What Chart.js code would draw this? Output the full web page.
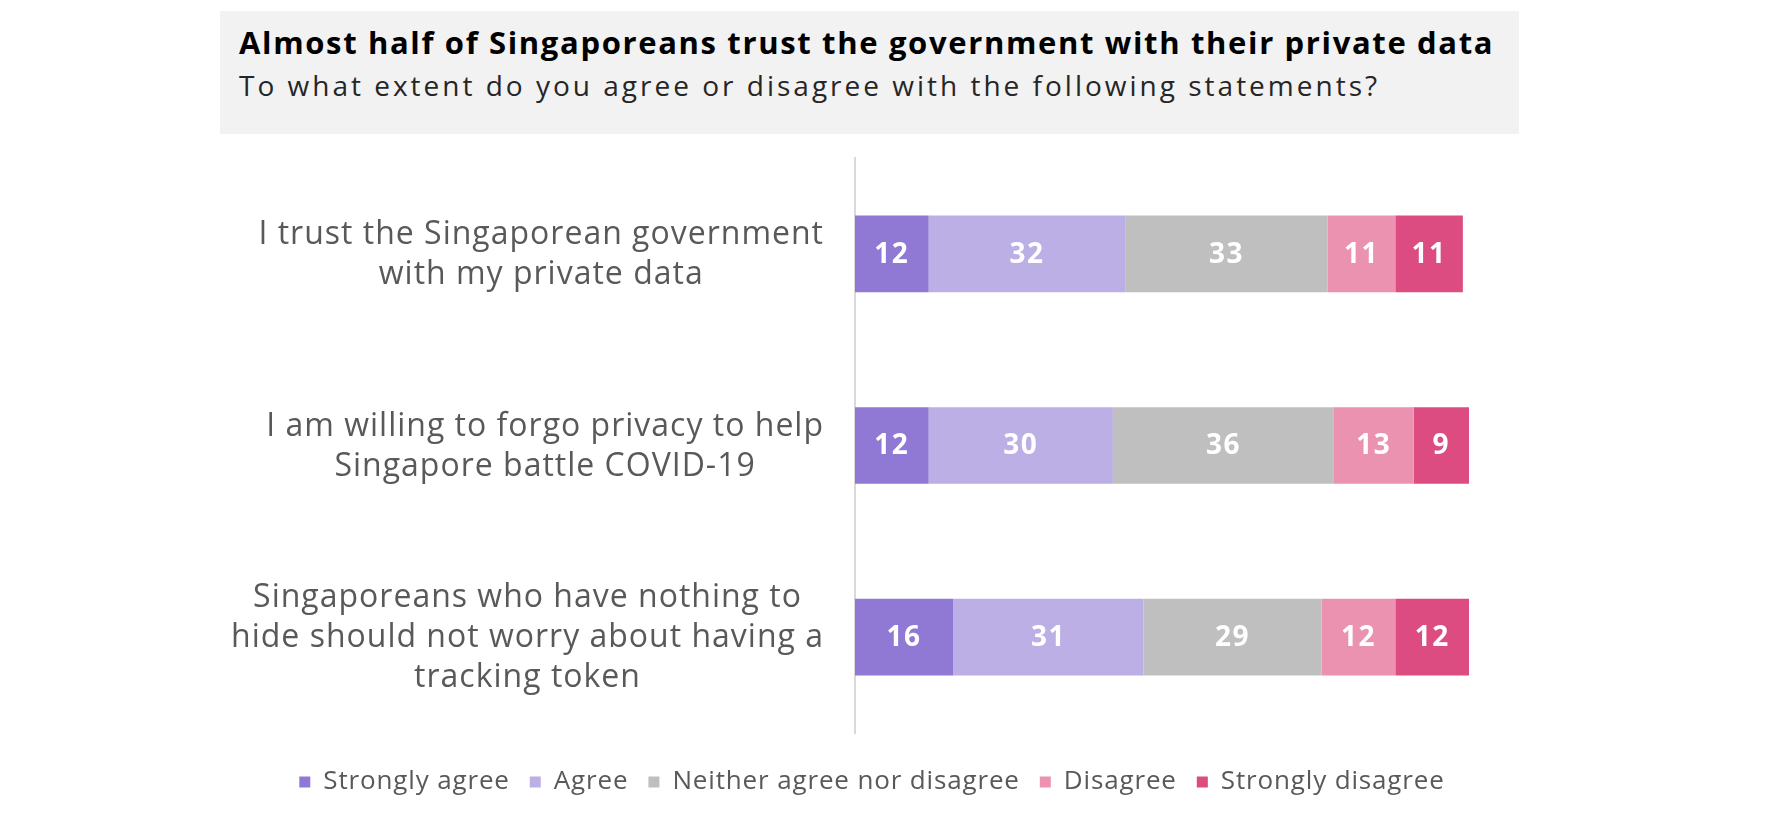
<!DOCTYPE html>
<html>
<head>
<meta charset="utf-8">
<script src="https://cdn.jsdelivr.net/npm/chart.js@4"></script>
<style>
  html, body { margin: 0; padding: 0; background: #fff; }
  #wrap { position: relative; width: 1788px; height: 824px; }
  #chart { position: absolute; left: 0; top: 0; }
  .title-box { position: absolute; left: 220px; top: 11px; width: 1299px; height: 123px; background: #f2f2f2; }
  .title { position: absolute; left: 19px; top: 16px; font: 700 31px/30px "Open Sans", sans-serif; letter-spacing: 1.65px; color: #000; white-space: nowrap; }
  .subtitle { position: absolute; left: 19px; top: 60px; font: 400 28px/28px "Open Sans", sans-serif; letter-spacing: 3px; color: #262626; white-space: nowrap; }
</style>
</head>
<body>
<div id="wrap">
  <canvas id="chart" width="1788" height="824"></canvas>
  <div class="title-box">
    <div class="title">Almost half of Singaporeans trust the government with their private data</div>
    <div class="subtitle">To what extent do you agree or disagree with the following statements?</div>
  </div>
</div>
<script>
/* ── data ── */
const statements = [
  ['I trust the Singaporean government', 'with my private data'],
  ['I am willing to forgo privacy to help', 'Singapore battle COVID-19'],
  ['Singaporeans who have nothing to', 'hide should not worry about having a', 'tracking token']
];
const responses = ['Strongly agree', 'Agree', 'Neither agree nor disagree', 'Disagree', 'Strongly disagree'];
const stronglyAgree    = [12, 12, 16];
const agree            = [32, 30, 31];
const neither          = [33, 36, 29];
const disagree         = [11, 13, 12];
const stronglyDisagree = [11, 9, 12];

const colors = ['#9079d4', '#bbafe5', '#bfbfbf', '#ea92b0', '#dc4c80'];
const series = [stronglyAgree, agree, neither, disagree, stronglyDisagree];

const FONT = '"Open Sans", sans-serif';

// wider tracking so Open Sans takes the room of the original typeface
const tracking = {
  id: 'tracking',
  beforeLayout(chart) { chart.ctx.letterSpacing = '0.85px'; },
  beforeDraw(chart) { chart.ctx.letterSpacing = '0.85px'; }
};

/* ── value labels inside the bars ── */
const barLabels = {
  id: 'barLabels',
  afterDatasetsDraw(chart) {
    const ctx = chart.ctx;
    ctx.save();
    ctx.letterSpacing = '1.5px';
    ctx.fillStyle = '#fff';
    ctx.font = '700 28px ' + FONT;
    ctx.textAlign = 'center';
    ctx.textBaseline = 'middle';
    chart.data.datasets.forEach((ds, i) => {
      chart.getDatasetMeta(i).data.forEach((bar, j) => {
        ctx.fillText(String(ds.data[j]), (bar.x + bar.base) / 2, bar.y + 1);
      });
    });
    ctx.restore();
  }
};

/* ── statement labels: centred lines, block right-aligned to the axis ── */
const statementLabels = {
  id: 'statementLabels',
  afterDraw(chart) {
    const ctx = chart.ctx;
    const y = chart.scales.y;
    const lineH = 40;
    ctx.save();
    ctx.letterSpacing = '1px';
    ctx.fillStyle = '#595959';
    ctx.font = '400 32px ' + FONT;
    ctx.textAlign = 'center';
    ctx.textBaseline = 'middle';
    statements.forEach((lines, i) => {
      const w = Math.max(...lines.map(l => ctx.measureText(l).width));
      const cx = y.right - 31 - w / 2;
      const cy = y.getPixelForTick(i) + 1;
      lines.forEach((l, k) => {
        ctx.fillText(l, cx, cy + (k - (lines.length - 1) / 2) * lineH);
      });
    });
    ctx.restore();
  }
};

new Chart(document.getElementById('chart'), {
  type: 'bar',
  data: {
    labels: statements,
    datasets: responses.map((name, i) => ({
      label: name,
      data: series[i],
      backgroundColor: colors[i],
      borderWidth: 0,
      barPercentage: 0.8,
      categoryPercentage: 0.5
    }))
  },
  options: {
    indexAxis: 'y',
    responsive: false,
    animation: false,
    layout: { padding: { left: 275, right: 319, top: 158, bottom: 19 } },
    plugins: {
      title: { display: false },
      tooltip: { enabled: false },
      legend: {
        position: 'bottom',
        labels: {
          color: '#595959',
          font: { family: FONT, size: 26 },
          boxWidth: 11,
          boxHeight: 11,
          padding: 20
        }
      }
    },
    scales: {
      x: {
        stacked: true, min: 0, max: 100,
        grid: { display: false },
        border: { display: false },
        ticks: { display: false },
        afterFit(scale) { scale.height = 16; }
      },
      y: {
        stacked: true,
        grid: { display: false, drawTicks: false },
        border: { display: true, color: '#d9d9d9', width: 2 },
        ticks: { display: false },
        afterFit(scale) { scale.width = 580; }
      }
    }
  },
  plugins: [tracking, barLabels, statementLabels]
});
</script>
</body>
</html>
